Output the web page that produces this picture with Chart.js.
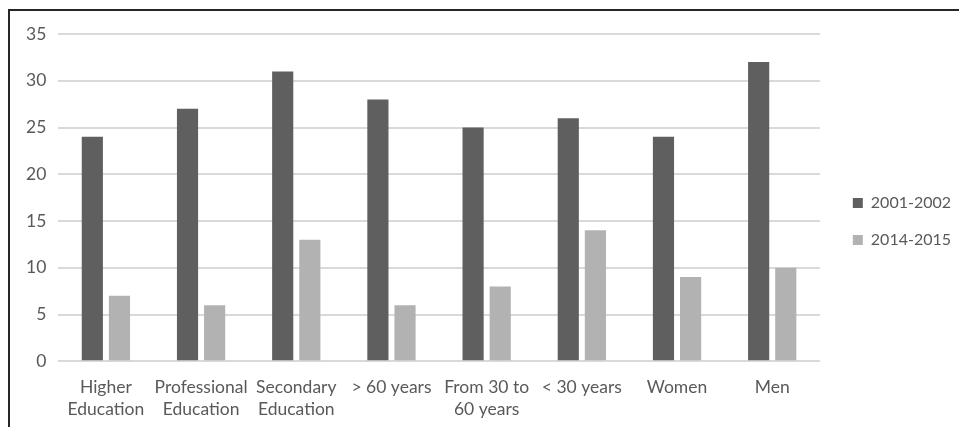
<!DOCTYPE html>
<html>
<head>
<meta charset="utf-8">
<script src="https://cdn.jsdelivr.net/npm/chart.js@4/dist/chart.umd.min.js"></script>
<style>
    html, body { margin: 0; padding: 0; background: #fff; }
    #wrap { position: relative; width: 959px; height: 427px; }
    #frame {
        position: absolute; left: 8px; top: 9px; right: -2px; bottom: -2px;
        border-left: 2px solid #262626; border-top: 2px solid #262626;
        pointer-events: none;
    }
</style>
</head>
<body>
<div id="wrap">
    <canvas id="chart" width="959" height="427"></canvas>
    <div id="frame"></div>
</div>
<script>
// Chart data
const categories = [
    ['Higher', 'Education'],
    ['Professional', 'Education'],
    ['Secondary', 'Education'],
    '> 60 years',
    ['From 30 to', '60 years'],
    '< 30 years',
    'Women',
    'Men'
];
const seriesNames = ['2001-2002', '2014-2015'];
const values2001 = [24, 27, 31, 28, 25, 26, 24, 32];
const values2014 = [7, 6, 13, 6, 8, 14, 9, 10];
const yTicks = [0, 5, 10, 15, 20, 25, 30, 35];

const textColor = '#595959';
const gridColor = '#d9d9d9';
const fontFamily = 'Lato, "Liberation Sans", sans-serif';

Chart.defaults.font.family = fontFamily;
Chart.defaults.font.size = 17.5;
Chart.defaults.color = textColor;

// Widen the legend box a bit and nudge its items into place
const legendNudge = {
    id: 'legendNudge',
    beforeLayout(chart) {
        const lg = chart.legend;
        if (lg && !lg._widened) {
            const fit = lg.fit.bind(lg);
            lg.fit = function () {
                fit();
                this.width += 8;
            };
            lg._widened = true;
        }
    },
    afterLayout(chart) {
        const lg = chart.legend;
        if (!lg) return;
        lg.left += 12;
        lg.right += 12;
        lg.top -= 9;
        lg.bottom -= 9;
    }
};

new Chart(document.getElementById('chart'), {
    type: 'bar',
    data: {
        labels: categories,
        datasets: [
            {
                label: seriesNames[0],
                data: values2001,
                backgroundColor: '#5f5f5f',
                categoryPercentage: 0.57,
                barPercentage: 0.78
            },
            {
                label: seriesNames[1],
                data: values2014,
                backgroundColor: '#b2b2b2',
                categoryPercentage: 0.57,
                barPercentage: 0.78
            }
        ]
    },
    plugins: [legendNudge],
    options: {
        responsive: false,
        animation: false,
        layout: {
            padding: { top: 34, left: 14, right: 2, bottom: 0 }
        },
        plugins: {
            legend: {
                position: 'right',
                labels: {
                    boxWidth: 10,
                    boxHeight: 10,
                    padding: 21,
                    color: textColor,
                    font: { size: 16 }
                }
            },
            tooltip: { enabled: false }
        },
        scales: {
            x: {
                grid: { display: false },
                border: { display: false },
                ticks: {
                    color: textColor, maxRotation: 0, autoSkip: false, padding: 7,
                    font: { size: 17.5, lineHeight: 1.25 }
                }
            },
            y: {
                min: 0,
                max: 35,
                afterBuildTicks: axis => {
                    axis.ticks = yTicks.map(v => ({ value: v }));
                },
                grid: { color: gridColor, lineWidth: 2, drawTicks: false },
                border: { display: false },
                ticks: { color: textColor, padding: 12 }
            }
        }
    }
});
</script>
</body>
</html>
